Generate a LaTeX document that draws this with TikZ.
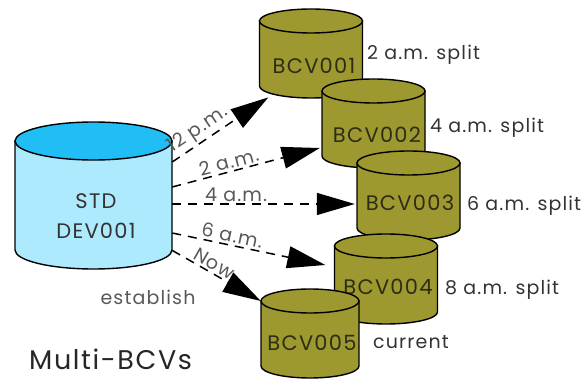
\documentclass[tikz,border=0pt]{standalone}
\usepackage{fontspec}
\setmainfont{Poppins}
\newfontfamily\wideface{Poppins}[LetterSpace=6]
\usetikzlibrary{arrows.meta,calc}

\definecolor{olivefill}{RGB}{158,152,48}
\definecolor{stdbody}{RGB}{174,234,253}
\definecolor{stdtop}{RGB}{32,190,245}
\definecolor{labelgray}{RGB}{88,88,88}
\definecolor{textdark}{RGB}{51,51,51}
\definecolor{drumink}{RGB}{45,45,20}

\tikzset{
  drumline/.style={draw=black, line width=1.4pt},
  drumtext/.style={font=\wideface\fontsize{21}{24}\selectfont, text=drumink,
    inner sep=0pt, anchor=base},
  sidetext/.style={font=\wideface\fontsize{19}{22}\selectfont, text=textdark,
    inner sep=0pt, anchor=base west},
  timetext/.style={font=\wideface\fontsize{19}{22}\selectfont, text=labelgray},
  onflow/.style={timetext, sloped, anchor=south, inner sep=2pt},
  flow/.style={draw=black, line width=1.5pt, dash pattern=on 9pt off 7pt,
    -{Triangle[length=38pt,width=22pt]}},
}

% #1 name, #2 centre x, #3 top centre y, #4 x radius, #5 y radius,
% #6 height, #7 body colour, #8 lid colour
\newcommand\drum[8]{%
  \draw[drumline, fill=#7] (#2-#4,#3) -- (#2-#4,#3+#6)
    arc[start angle=180, end angle=0, x radius=#4, y radius=#5]
    -- (#2+#4,#3) -- cycle;
  \draw[drumline, fill=#8] (#2,#3) ellipse[x radius=#4, y radius=#5];
  \node[name=#1, minimum width=2*#4, minimum height=#6, inner sep=0pt,
        anchor=north] at (#2,#3) {};
}

\begin{document}
\begin{tikzpicture}[x=1pt, y=-1pt]
\useasboundingbox (0,0) rectangle (587,379);

% source volume
\drum{std}{93.5}{141}{78.5}{19}{109}{stdbody}{stdtop}
\node[drumtext, text=textdark] at (96,209) {STD};
\node[drumtext, text=textdark] at (96,239) {DEV001};

% backup volumes, later ones overlap earlier ones
\drum{b1}{311}{21}{51.5}{12}{65}{olivefill}{olivefill}
\node[drumtext] at (314,74) {BCV001};
\drum{b2}{373.5}{91}{51.5}{12}{65}{olivefill}{olivefill}
\node[drumtext] at (377,143) {BCV002};
\drum{b3}{408.5}{163}{51.5}{12}{65}{olivefill}{olivefill}
\node[drumtext] at (410,211) {BCV003};
\drum{b4}{386}{246}{51.5}{12}{66}{olivefill}{olivefill}
\node[drumtext] at (388,295) {BCV004};
\drum{b5}{310}{301}{49}{12}{65}{olivefill}{olivefill}
\node[drumtext] at (312,351) {BCV005};

% split / establish connectors
\draw[flow] (std.east |- 0,162)
  -- node[onflow, pos=0.34] {12 p.m.} ($(b1.south west)+(9,11)$);
\draw[flow] (std.east |- 0,187)
  -- node[onflow, pos=0.40] {2 a.m.} ($(b2.west |- 0,148)+(-2,0)$);
\draw[flow] (std.east |- 0,204)
  -- node[onflow, pos=0.35] {4 a.m.} ($(b3.west |- 0,204)+(-2,0)$);
\draw[flow] (std.east |- 0,233)
  -- node[onflow, pos=0.38] {6 a.m.} ($(b4.west |- 0,265)+(-9,0)$);
\draw[flow] (std.south east)
  -- node[onflow, pos=0.42] {Now} (b5.north west);

% status labels
\node[sidetext] at (367,60) {2 a.m. split};
\node[sidetext] at (430,133) {4 a.m. split};
\node[sidetext] at (467,211) {6 a.m. split};
\node[sidetext] at (445,295) {8 a.m. split};
\node[sidetext] at (373,349) {current};
\node[timetext, inner sep=0pt, anchor=base] at (148,305) {establish};

\node[font=\wideface\fontsize{27}{30}\selectfont, text=black!85,
      inner sep=0pt, anchor=base west] at (29,370) {Multi-BCVs};
\end{tikzpicture}
\end{document}
